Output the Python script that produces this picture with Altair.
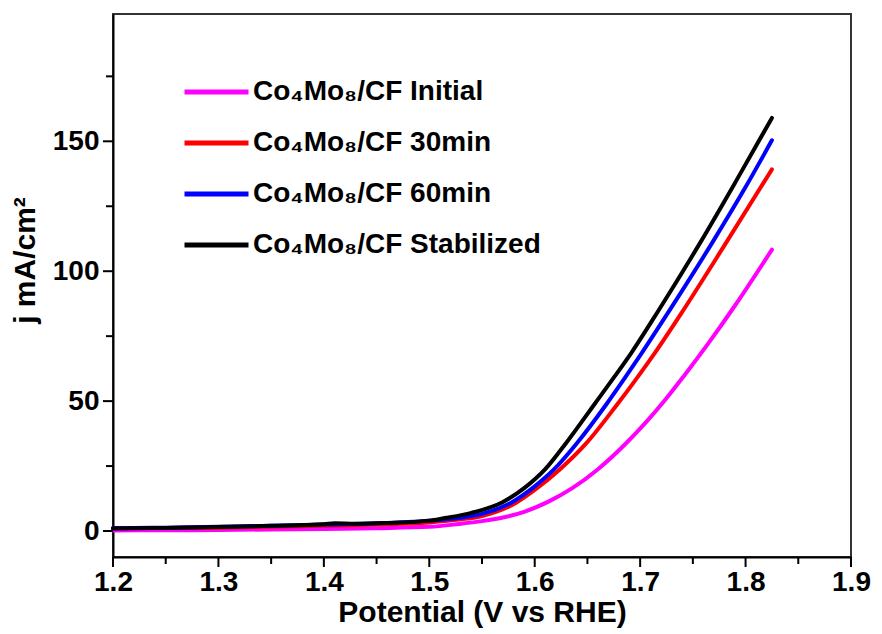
import altair as alt
import pandas as pd

FONT = "Liberation Sans"

series_names = [
    "Co₄Mo₈/CF Initial",
    "Co₄Mo₈/CF 30min",
    "Co₄Mo₈/CF 60min",
    "Co₄Mo₈/CF Stabilized",
]
series_colors = ["#ff00ff", "#ff0000", "#0000ff", "#000000"]

initial_v = [1.20, 1.25, 1.30, 1.35, 1.40, 1.45, 1.50, 1.528, 1.55, 1.572, 1.59, 1.613, 1.636, 1.660, 1.686, 1.705, 1.724, 1.741, 1.765, 1.790, 1.825]
initial_j = [0.2, 0.3, 0.4, 0.6, 0.8, 1.1, 1.6, 2.7, 3.8, 5.4, 7.4, 11.3, 16.6, 23.8, 33.5, 41.6, 50.6, 59.4, 72.4, 86.8, 108.3]

min30_v = [1.20, 1.25, 1.30, 1.35, 1.40, 1.45, 1.50, 1.53, 1.55, 1.582, 1.60, 1.623, 1.649, 1.678, 1.695, 1.712, 1.740, 1.781, 1.825]
min30_j = [1.2, 1.2, 1.3, 1.6, 2.0, 2.5, 3.3, 4.5, 5.8, 10.8, 15.8, 23.4, 33.8, 48.6, 57.8, 67.4, 84.4, 110.6, 139.2]

min60_v = [1.20, 1.25, 1.30, 1.35, 1.40, 1.45, 1.50, 1.53, 1.55, 1.578, 1.60, 1.618, 1.640, 1.668, 1.686, 1.701, 1.728, 1.769, 1.80, 1.825]
min60_j = [1.1, 1.3, 1.6, 2.0, 2.5, 3.0, 4.0, 5.1, 6.6, 11.0, 17.2, 23.6, 33.8, 48.8, 59.2, 68.2, 85.0, 111.4, 132.4, 150.4]

stab_v = [1.20, 1.25, 1.30, 1.35, 1.40, 1.41, 1.43, 1.46, 1.50, 1.515, 1.54, 1.569, 1.59, 1.610, 1.630, 1.657, 1.676, 1.692, 1.717, 1.757, 1.79, 1.825]
stab_j = [1.0, 1.2, 1.5, 2.0, 2.6, 3.0, 2.8, 3.1, 4.0, 5.0, 7.0, 11.0, 16.5, 23.8, 34.0, 49.0, 59.6, 68.8, 84.6, 111.0, 134.0, 159.0]

x_major = [1.2, 1.3, 1.4, 1.5, 1.6, 1.7, 1.8, 1.9]
x_minor = [1.25, 1.35, 1.45, 1.55, 1.65, 1.75, 1.85]
y_major = [0, 50, 100, 150]
y_minor = [25, 75, 125, 175]

W, H = 738, 543

rows = []
for name, vs, js in zip(series_names,
                        [initial_v, min30_v, min60_v, stab_v],
                        [initial_j, min30_j, min60_j, stab_j]):
    for v, j in zip(vs, js):
        rows.append({"series": name, "V": v, "j": j})
df = pd.DataFrame(rows)

xscale = alt.Scale(domain=[1.2, 1.9], nice=False, zero=False)
yscale = alt.Scale(domain=[-10, 199], nice=False, zero=False)

xaxis = alt.Axis(orient="bottom", values=x_major, format=".1f", ticks=False,
                 labelPadding=11, title="Potential (V vs RHE)", titlePadding=1)
yaxis = alt.Axis(orient="left", values=y_major, format="d", ticks=False,
                 labelPadding=14, title="j mA/cm²", titlePadding=12, titleY=246)

color = alt.Color(
    "series:N",
    scale=alt.Scale(domain=series_names, range=series_colors),
    sort=series_names,
    legend=alt.Legend(
        orient="none", legendX=69, legendY=63, title=None,
        symbolType="stroke", symbolSize=4096, symbolStrokeWidth=5,
        labelFont=FONT, labelFontSize=28, labelFontWeight="bold", labelColor="#000",
        labelLimit=500, clipHeight=30, rowPadding=21, labelOffset=2, padding=0,
    ),
)

lines = alt.Chart(df).mark_line(strokeWidth=4, interpolate="monotone", strokeCap="round").encode(
    x=alt.X("V:Q", scale=xscale, axis=xaxis),
    y=alt.Y("j:Q", scale=yscale, axis=yaxis),
    color=color,
    order=alt.Order("V:Q"),
)

def xticks(vals, length):
    return alt.Chart(pd.DataFrame({"V": vals})).mark_rule(color="#000", strokeWidth=2).encode(
        x=alt.X("V:Q", scale=xscale, axis=xaxis),
        y=alt.value(H), y2=alt.value(H + length),
    )

def yticks(vals, length):
    return alt.Chart(pd.DataFrame({"j": vals})).mark_rule(color="#000", strokeWidth=2).encode(
        y=alt.Y("j:Q", scale=yscale, axis=yaxis),
        x=alt.value(0), x2=alt.value(-length),
    )

chart = alt.layer(
    lines,
    xticks(x_major, 10), xticks(x_minor, 7),
    yticks(y_major, 10), yticks(y_minor, 7),
).properties(
    width=W, height=H,
    padding={"left": 10, "top": 14, "right": 5, "bottom": 5},
).configure_view(
    stroke="#333333", strokeWidth=2
).configure_axis(
    grid=False, domainColor="#000", domainWidth=2,
    labelFont=FONT, labelFontSize=28, labelFontWeight="bold", labelColor="#000",
    titleFont=FONT, titleFontSize=30, titleFontWeight="bold", titleColor="#000",
    labelFlush=False,
)

chart.save("out.html", embed_options={"renderer": "svg", "actions": False})
